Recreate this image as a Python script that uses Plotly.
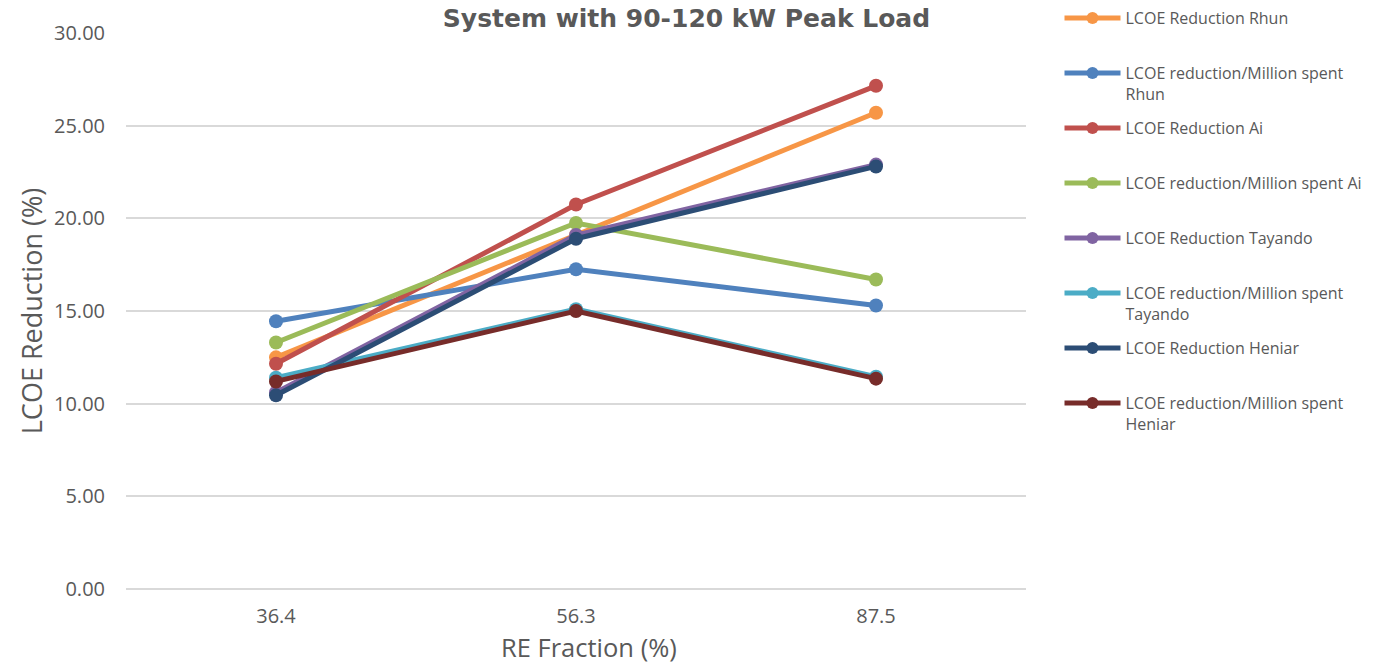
import plotly.graph_objects as go

categories = ["36.4", "56.3", "87.5"]
series_names = [
    "LCOE Reduction Rhun<br> ",
    "LCOE reduction/Million spent<br>Rhun",
    "LCOE Reduction Ai<br> ",
    "LCOE reduction/Million spent Ai<br> ",
    "LCOE Reduction Tayando<br> ",
    "LCOE reduction/Million spent<br>Tayando",
    "LCOE Reduction Heniar<br> ",
    "LCOE reduction/Million spent<br>Heniar",
]
rhun_red = [12.5, 19.1, 25.7]
rhun_pm = [14.45, 17.25, 15.3]
ai_red = [12.15, 20.75, 27.15]
ai_pm = [13.3, 19.75, 16.7]
tay_red = [10.6, 19.1, 22.9]
tay_pm = [11.4, 15.1, 11.45]
hen_red = [10.45, 18.9, 22.8]
hen_pm = [11.2, 15.0, 11.35]
series_values = [rhun_red, rhun_pm, ai_red, ai_pm, tay_red, tay_pm, hen_red, hen_pm]
colors = ["#F79646", "#4F81BD", "#C0504D", "#9BBB59", "#8064A2", "#4BACC6", "#2C4D75", "#772C2A"]

fig = go.Figure()
for i, (name, vals, c) in enumerate(zip(series_names, series_values, colors)):
    fig.add_trace(go.Scatter(
        x=categories, y=vals, name=name, mode="lines+markers",
        line=dict(color=c, width=5), marker=dict(color=c, size=14),
        legendgroup=f"g{i}",
    ))

fig.update_layout(
    width=1373, height=663,
    margin=dict(l=126, r=347, t=33, b=74, autoexpand=False),
    paper_bgcolor="white", plot_bgcolor="white",
    font=dict(family="Open Sans", color="#595959"),
    title=dict(text="<b>System with 90-120 kW Peak Load</b>",
               font=dict(family="DejaVu Sans", size=25, color="#595959"),
               x=0.5, xanchor="center", xref="container",
               y=1 - 18 / 663, yanchor="middle", yref="container"),
    xaxis=dict(type="category",
               tickfont=dict(size=20), showgrid=False, showline=False, zeroline=False,
               range=[-0.5, 2.5], ticks="", ticklabelstandoff=13, automargin=False),
    yaxis=dict(title=dict(text="LCOE Reduction (%)", font=dict(size=27), standoff=3),
               range=[0, 30], dtick=5, tickformat=".2f", tickfont=dict(size=20),
               showgrid=True, gridcolor="#D9D9D9", gridwidth=1.5, zeroline=True,
               zerolinecolor="#D9D9D9", zerolinewidth=1.5, showline=False, ticks="",
               ticklabelstandoff=20, automargin=False),
    legend=dict(x=1059.5 / 1373, xref="container", xanchor="left",
                y=1.0 - 1 / 663, yref="container", yanchor="top",
                font=dict(size=16, color="#595959"), valign="top",
                tracegroupgap=10.4, itemwidth=56, bgcolor="rgba(0,0,0,0)",
                itemsizing="constant", maxheight=660),
    annotations=[dict(text="RE Fraction (%)", xref="paper", yref="paper",
                      x=(589 - 126) / 900, y=-(647 - 589) / 556,
                      xanchor="center", yanchor="middle", showarrow=False,
                      font=dict(size=25.5, color="#595959"))],
    showlegend=True,
)

fig.write_html("out.html")
